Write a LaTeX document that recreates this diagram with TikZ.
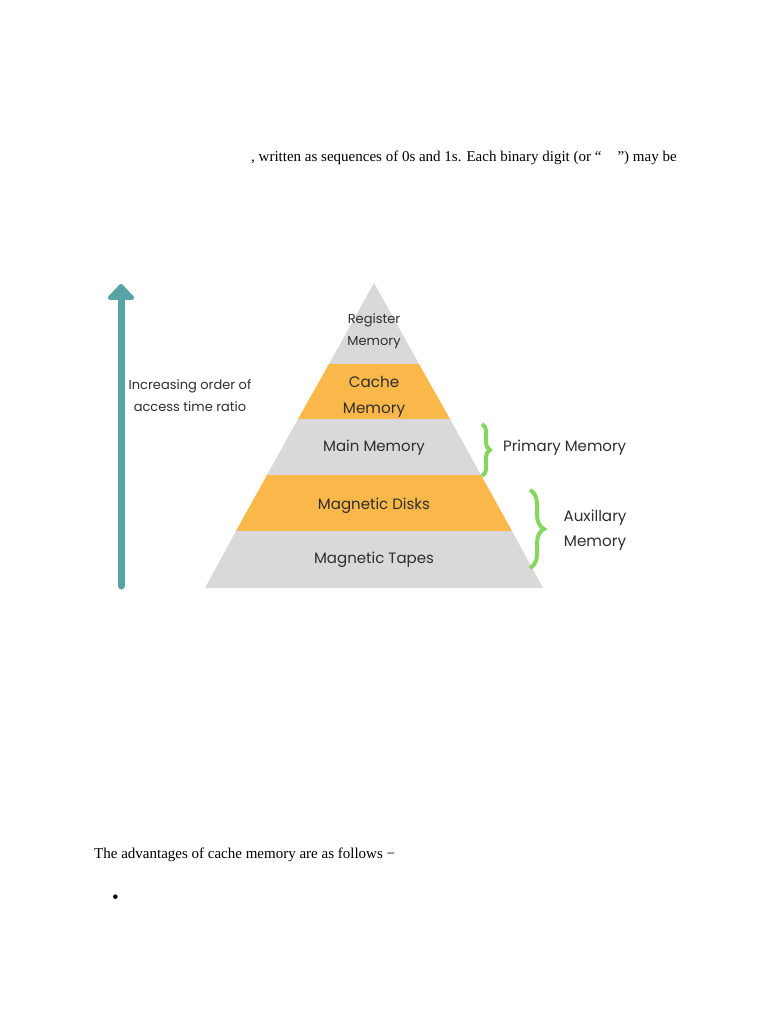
\documentclass[tikz,border=0pt]{standalone}
\usepackage{fontspec}
\setmainfont{Liberation Serif}
\newfontfamily\gothic{Poppins}
\usetikzlibrary{arrows.meta,decorations.pathreplacing}
\definecolor{pgray}{HTML}{D9D9D9}
\definecolor{porange}{HTML}{FAB84A}
\definecolor{pteal}{HTML}{58A4A5}
\definecolor{pgreen}{HTML}{84D65C}
\definecolor{ptext}{HTML}{2E2E2E}
\tikzset{
  lvl/.style={font=\gothic\fontsize{15}{16}\selectfont, text=ptext, align=center, inner sep=0pt},
  small/.style={font=\gothic\fontsize{13}{22}\selectfont, text=ptext, align=center, inner sep=0pt},
  body/.style={font=\fontsize{15}{18}\selectfont, text=black, anchor=base west, inner sep=0pt},
  bracestyle/.style={draw=pgreen, line width=4pt, decorate, decoration={brace, amplitude=8pt}}
}
\begin{document}
\begin{tikzpicture}[x=1pt,y=-1pt]
\useasboundingbox (0,0) rectangle (768,1024);
% pyramid bands
\fill[pgray]   (374,283) -- (329,364) -- (419,364) -- cycle;
\fill[porange] (329,364) -- (298,419) -- (450,419) -- (419,364) -- cycle;
\fill[pgray]   (298,419) -- (267,475) -- (481,475) -- (450,419) -- cycle;
\fill[porange] (267,475) -- (236,531) -- (512,531) -- (481,475) -- cycle;
\fill[pgray]   (236,531) -- (205,588) -- (543,588) -- (512,531) -- cycle;
% labels
\node[small] (reg) at (374,331) {Register\\Memory};
\node[lvl, font=\gothic\fontsize{15.2}{26}\selectfont] (cache) at (374,397) {Cache\\Memory};
\node[lvl] (main) at (374,448) {Main Memory};
\node[lvl] (disk) at (374,506) {Magnetic Disks};
\node[lvl] (tape) at (374,560) {Magnetic Tapes};
% arrow
\coordinate (abot) at (121,586);
\coordinate (atop) at (121,284);
\draw[pteal, line width=7pt, line cap=round, -{Triangle[width=31pt,length=17pt,round]}] (abot) -- (atop);
\node[small] (order) at (190,396) {Increasing order of\\access time ratio};
% braces
\coordinate (p1) at (482,424);
\coordinate (p2) at (482,476);
\draw[bracestyle] (p1) -- (p2);
\node[lvl, anchor=west] (prim) at (503,448) {Primary Memory};
\coordinate (q1) at (530,490);
\coordinate (q2) at (530,568);
\draw[bracestyle, decoration={brace, amplitude=14pt}] (q1) -- (q2);
\node[lvl, font=\gothic\fontsize{15.2}{25}\selectfont] (aux) at (595,530) {Auxillary\\Memory};
% body text
\node[body] (top) at (251,162) {, written as sequences of 0s and 1s. Each binary digit (or \char"201C\hspace{16pt}\char"201D) may be};
\node[body] (adv) at (94,858) {The advantages of cache memory are as follows \char"2212};
\node[body, font=\fontsize{19}{20}\selectfont] (bul) at (112,903) {\char"2022};
\end{tikzpicture}
\end{document}
